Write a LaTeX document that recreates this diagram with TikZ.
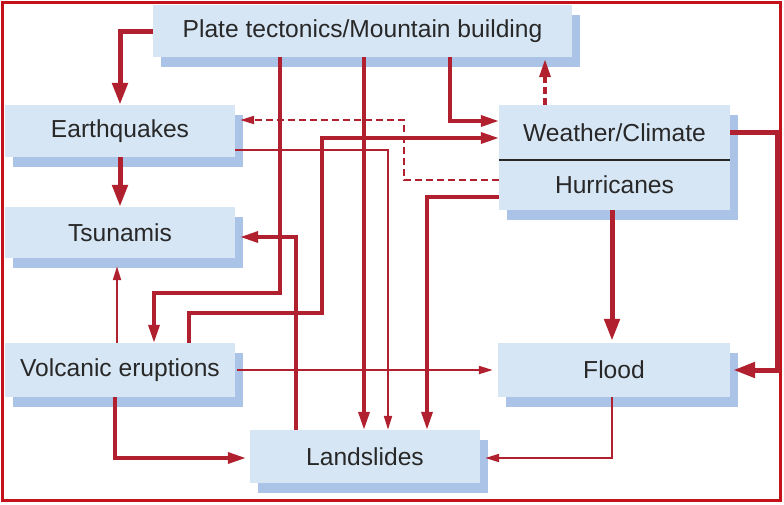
\documentclass[tikz,border=0pt]{standalone}
\usepackage{fontspec}
\setmainfont{Liberation Sans}
\usetikzlibrary{arrows.meta,calc,shadows}
\definecolor{arr}{RGB}{176,32,46}
\definecolor{frame}{RGB}{196,18,26}
\definecolor{face}{RGB}{214,230,244}
\definecolor{shad}{RGB}{170,195,230}
\definecolor{txt}{RGB}{40,40,40}
\tikzset{
  box/.style={fill=face, draw=none, text=txt, font=\fontsize{24.6}{27}\selectfont, inner sep=0pt,
    copy shadow={shadow xshift=8pt, shadow yshift=-10pt, fill=shad, draw=none}},
  plain/.style={fill=face, draw=none, text=txt, font=\fontsize{24.6}{27}\selectfont, inner sep=0pt},
  thk/.style={draw=arr, line width=5pt, -{Triangle[length=22pt,width=15pt]}},
  med/.style={draw=arr, line width=3.4pt, -{Triangle[length=18pt,width=11pt]}},
  thn/.style={draw=arr, line width=2pt, -{Triangle[length=14pt,width=8pt]}},
  dsh/.style={dash pattern=on 7pt off 4pt},
}
\begin{document}
\begin{tikzpicture}[x=1pt,y=-1pt]
\useasboundingbox (0,0) rectangle (784,504);
\fill[white] (0,0) rectangle (784,504);
\draw[frame, line width=3pt] (2.5,2.5) rectangle (780.5,500.5);
% boxes
\node[box, minimum width=419pt, minimum height=52pt] (plate) at (362.5,31) {Plate tectonics/Mountain building};
\node[box, minimum width=230pt, minimum height=52pt] (earth) at (120,131) {Earthquakes};
\node[box, minimum width=230pt, minimum height=51pt] (tsu) at (120,232.5) {Tsunamis};
\node[box, minimum width=230pt, minimum height=54pt] (volc) at (120,370) {Volcanic eruptions};
\node[box, minimum width=230pt, minimum height=53pt] (land) at (365,456.5) {Landslides};
\node[box, minimum width=232pt, minimum height=54pt] (flood) at (614,370) {Flood};
\fill[shad] (507,115) rectangle (738,220);
\node[plain, minimum width=231pt, minimum height=55pt] (weather) at (614.5,132.5) {Weather/Climate};
\node[plain, minimum width=231pt, minimum height=50pt] (hurr) at (614.5,185) {Hurricanes};
\draw[txt, line width=1.5pt] (weather.south west) -- (weather.south east);
% connectors
\draw[thk] (plate.west) -| (earth.north);
\draw[thk] (earth.south) -- (tsu.north);
\draw[med] (plate.south -| 450,0) |- (weather.west |- 0,121);
\draw[med, dsh] (weather.north -| 545,0) -- ($(plate.south -| 545,0)+(0,2)$);
\draw[med] (plate.south -| 280,0) -- (280,293) -| (volc.north -| 154,0);
\draw[med] (plate.south -| 364,0) -- (land.north -| 364,0);
\draw[thn] (earth.east |- 0,150) -| (land.north -| 388,0);
\draw[med] (volc.north -| 189,0) |- (322,313) |- (weather.west |- 0,138);
\draw[thn, dsh] (hurr.west |- 0,180) -| (404,120) -- ($(earth.east |- 0,120)+(5,0)$);
\draw[med] (hurr.west |- 0,197) -| (land.north -| 427,0);
\draw[med] (land.north -| 296,0) |- ($(tsu.east |- 0,237)+(5,0)$);
\draw[thn] (volc.north -| 117,0) -- ($(tsu.south -| 117,0)+(0,8)$);
\draw[thn] ($(volc.east)+(2,0)$) -- ($(flood.west)+(-5,0)$);
\draw[med] (volc.south -| 115,0) |- ($(land.west |- 0,458)+(-4,0)$);
\draw[thk] (hurr.south -| 612,0) -- ($(flood.north -| 612,0)+(0,-2)$);
\draw[thk] (weather.east |- 0,132) -| (777,370) -- ($(flood.east)+(3,0)$);
\draw[thn] (flood.south -| 612,0) |- ($(land.east |- 0,458)+(5,0)$);
\end{tikzpicture}
\end{document}
